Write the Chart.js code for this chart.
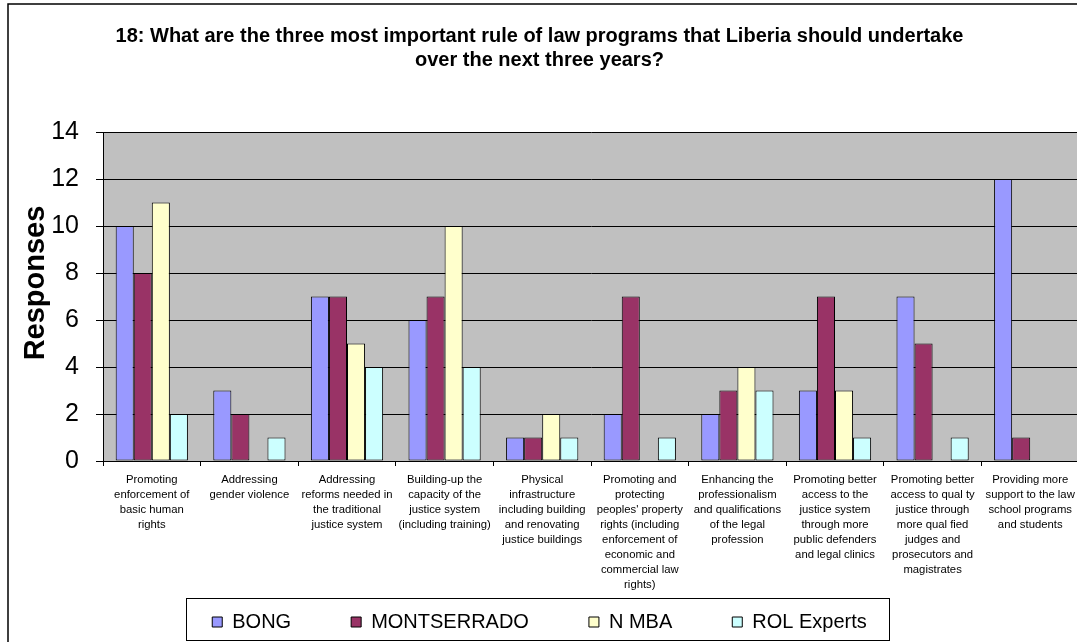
<!DOCTYPE html>
<html>
<head>
<meta charset="utf-8">
<script src="https://cdn.jsdelivr.net/npm/chart.js@4/dist/chart.umd.min.js"></script>
<style>
  html, body { margin: 0; padding: 0; background: #ffffff; overflow: hidden; }
  #wrap { position: relative; width: 1082px; height: 642px; }
</style>
</head>
<body>
<div id="wrap"><canvas id="chart"></canvas></div>
<script>
// Survey question 18: rule of law program priorities, responses per group
const categories = [
  ["Promoting", "enforcement of", "basic human", "rights"],
  ["Addressing", "gender violence"],
  ["Addressing", "reforms needed in", "the traditional", "justice system"],
  ["Building-up the", "capacity of the", "justice system", "(including training)"],
  ["Physical", "infrastructure", "including building", "and renovating", "justice buildings"],
  ["Promoting and", "protecting", "peoples' property", "rights (including", "enforcement of", "economic and", "commercial law", "rights)"],
  ["Enhancing the", "professionalism", "and qualifications", "of the legal", "profession"],
  ["Promoting better", "access to the", "justice system", "through more", "public defenders", "and legal clinics"],
  ["Promoting better", "access to qual ty", "justice through", "more qual fied", "judges and", "prosecutors and", "magistrates"],
  ["Providing more", "support to the law", "school programs", "and students"]
];

const seriesNames = ["BONG", "MONTSERRADO", "N MBA", "ROL Experts"];
const bong        = [10, 3, 7, 6, 1, 2, 2, 3, 7, 12];
const montserrado = [8, 2, 7, 7, 1, 7, 3, 7, 5, 1];
const nmba        = [11, 0, 5, 10, 2, 0, 4, 3, 0, 0];
const rolExperts  = [2, 1, 4, 4, 1, 1, 3, 1, 1, 0];

const yTicks = [0, 2, 4, 6, 8, 10, 12, 14];
const titleLines = [
  "18: What are the three most important rule of law programs that Liberia should undertake",
  "over the next three years?"
];
const yTitle = "Responses";

const seriesColors = ["#9999FF", "#993366", "#FFFFCC", "#CCFFFF"];
const FONT = "'Liberation Sans', Arial, sans-serif";

const plotBackground = {
  id: 'plotBackground',
  beforeDraw(chart) {
    const { ctx, chartArea: a } = chart;
    ctx.save();
    ctx.fillStyle = '#C0C0C0';
    ctx.fillRect(a.left, a.top, a.right - a.left, a.bottom - a.top);
    ctx.restore();
  }
};

const decorations = {
  id: 'decorations',
  afterDraw(chart) {
    const { ctx } = chart;
    ctx.save();
    // outer frame (top and left edges)
    ctx.strokeStyle = '#000';
    ctx.lineWidth = 1.5;
    ctx.beginPath();
    ctx.moveTo(8, chart.height + 5);
    ctx.lineTo(8, 4);
    ctx.lineTo(chart.width + 5, 4);
    ctx.stroke();

    // rotated value-axis title
    ctx.fillStyle = '#000';
    ctx.font = "bold 29px " + FONT;
    ctx.textAlign = 'center';
    ctx.textBaseline = 'middle';
    ctx.translate(36, 283);
    ctx.rotate(-Math.PI / 2);
    ctx.fillText(yTitle, 0, 0);
    ctx.restore();

    // frame around the legend entries
    const boxes = chart.legend.legendHitBoxes;
    if (boxes && boxes.length) {
      const first = boxes[0];
      const last = boxes[boxes.length - 1];
      const l = Math.round(first.left - 26) + 0.5;
      const r = Math.round(last.left + last.width + 22) + 0.5;
      const t = Math.round(first.top - 14) + 0.5;
      const b = Math.round(first.top + first.height + 8) + 0.5;
      ctx.save();
      ctx.strokeStyle = '#000';
      ctx.lineWidth = 1;
      ctx.strokeRect(l, t, r - l, b - t);
      ctx.restore();
    }
  }
};

const datasets = [bong, montserrado, nmba, rolExperts].map((values, i) => ({
  label: seriesNames[i],
  data: values,
  backgroundColor: seriesColors[i],
  borderColor: '#000000',
  borderWidth: 1,
  borderSkipped: false,
  categoryPercentage: 0.74,
  barPercentage: 1.0
}));

new Chart(document.getElementById('chart'), {
  type: 'bar',
  data: { labels: categories, datasets },
  plugins: [plotBackground, decorations],
  options: {
    responsive: true,
    maintainAspectRatio: false,
    devicePixelRatio: 1,
    animation: false,
    layout: { padding: { left: 0, right: 3, top: 0, bottom: 0 } },
    plugins: {
      tooltip: { enabled: false },
      title: {
        display: true,
        text: titleLines,
        color: '#000',
        font: { family: FONT, size: 20, weight: 'bold', lineHeight: 24 / 20 },
        padding: { top: 24, bottom: 60 }
      },
      legend: {
        position: 'bottom',
        labels: {
          color: '#000',
          font: { family: FONT, size: 20 },
          boxWidth: 10,
          boxHeight: 10,
          padding: 60
        }
      }
    },
    scales: {
      x: {
        offset: true,
        grid: {
          display: true,
          offset: true,
          drawOnChartArea: false,
          drawTicks: true,
          tickLength: 5,
          tickColor: '#000',
          tickWidth: 1
        },
        border: { display: true, color: '#000', width: 1 },
        ticks: {
          color: '#000',
          font: { family: FONT, size: 11.3, lineHeight: 15 / 11.3 },
          padding: 6,
          maxRotation: 0,
          minRotation: 0,
          autoSkip: false
        },
        afterFit(scale) {
          scale.height = 91;
          // long category labels run below the axis box into the legend band
          scale._computeLabelArea = () => undefined;
        }
      },
      y: {
        min: 0,
        max: 14,
        afterBuildTicks(scale) { scale.ticks = yTicks.map(v => ({ value: v })); },
        grid: {
          color: '#000',
          lineWidth: 1,
          drawTicks: true,
          tickLength: 7,
          tickColor: '#000'
        },
        border: { display: true, color: '#000', width: 1 },
        ticks: {
          color: '#000',
          font: { family: FONT, size: 25 },
          padding: 17
        },
        afterFit(scale) { scale.width = 103; }
      }
    }
  }
});
</script>
</body>
</html>
